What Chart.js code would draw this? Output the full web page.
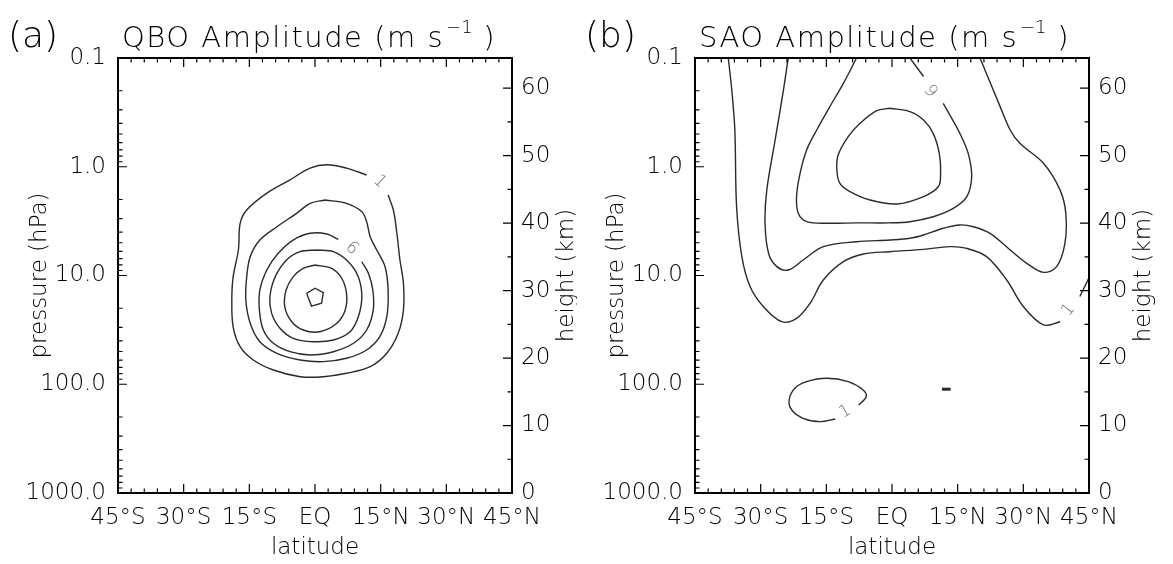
<!DOCTYPE html>
<html>
<head>
<meta charset="utf-8">
<script src="https://cdn.jsdelivr.net/npm/chart.js@4.4.1/dist/chart.umd.min.js"></script>
<style>
  html, body { margin: 0; padding: 0; background: #fff; }
  #wrap { position: relative; width: 1173px; height: 564px; }
  .panel { position: absolute; top: 0; height: 564px; }
</style>
</head>
<body>
<div id="wrap">
  <div class="panel" style="left:0;width:577px"><canvas id="qboChart"></canvas></div>
  <div class="panel" style="left:577px;width:596px"><canvas id="saoChart"></canvas></div>
</div>
<script>
// axis ticks
const latTicks = [-45, -30, -15, 0, 15, 30, 45];
const latTickLabels = ['45°S', '30°S', '15°S', 'EQ', '15°N', '30°N', '45°N'];
const pressureTicks = [0.1, 1, 10, 100, 1000];
const heightTicks = [0, 10, 20, 30, 40, 50, 60];
const SCALE_HEIGHT = 7; // km, for the height axis on the right
const HEIGHT_TOP = SCALE_HEIGHT * Math.log(1000 / 0.1);

// QBO amplitude contours, [latitude, pressure hPa]
const qboLevel1 = [[11.8,1.19],[7.2,1.03],[2.7,0.96],[-1.1,1.03],[-5.7,1.32],[-11.0,1.75],[-15.6,2.5],[-17.1,3.31],[-17.5,5.83],[-18.7,10.3],[-19.0,16.8],[-18.7,29.6],[-17.1,45.1],[-14.1,59.8],[-9.5,74],[-3.4,85.2],[1.9,85.2],[7.2,79.3],[12.6,69],[16.4,51.9],[19.0,34.0],[20.2,20.8],[20.2,11.8],[19.4,7.2],[18.7,4.09],[17.9,2.5],[16.7,1.82]];
const qboLevel2 = [[2.3,2.02],[7.2,2.17],[10.7,2.59],[11.8,3.2],[12.6,4.4],[14.1,5.83],[16.0,8.3],[16.7,13.6],[16.4,23.9],[14.8,36.5],[11.8,48.4],[7.2,57.7],[1.9,62.0],[-3.4,59.8],[-8.7,51.9],[-12.6,40.6],[-14.8,27.5],[-15.8,16.8],[-15.6,10.3],[-14.8,6.72],[-12.6,4.72],[-8.7,3.56],[-4.2,2.68],[-1.1,2.17],[2.3,2.02]];
const qboLevel3 = [[5.3,4.65],[2.7,4.15],[-1.1,4.09],[-5.0,4.72],[-8.4,6.25],[-11.0,8.9],[-12.6,13.6],[-12.7,20.8],[-11.8,31.7],[-9.5,42.0],[-5.7,50.2],[-1.1,53.8],[4.2,50.2],[8.8,42.0],[11.8,31.7],[13.3,20.8],[13.2,13.6],[12.2,9.55],[10.7,7.47]];
const qboLevel4 = [[0.4,5.83],[4.2,6.04],[7.6,7.47],[9.9,10.3],[10.7,15.7],[9.9,23.9],[8.0,32.9],[4.2,39.2],[-0.4,40.6],[-5.0,37.8],[-8.0,30.6],[-9.9,22.3],[-10.3,15.7],[-9.1,10.3],[-6.5,7.2],[-3.4,6.04],[0.4,5.83]];
const qboLevel5 = [[0.0,8.01],[3.8,8.59],[6.1,10.6],[7.2,14.6],[6.9,20.8],[5.0,27.5],[1.1,32.9],[-2.7,31.7],[-5.3,26.6],[-6.9,19.4],[-6.6,13.6],[-5.0,10.3],[-2.7,8.59],[0.0,8.01]];
const qboLevel6 = [[-1.9,14.6],[0.0,13.1],[1.9,14.4],[1.5,18.0],[-0.8,19.1],[-1.9,14.6]];
const qboLabels = [
  { lat: 14.8, p: 1.37, text: '1', angle: 43 },
  { lat: 8.4, p: 5.62, text: '6', angle: 44 }
];

// SAO amplitude contours
const saoLevel1 = [[-37.4,0.1],[-36.6,0.197],[-35.9,0.459],[-35.5,2.33],[-34.3,6.71],[-32.4,12.7],[-29.4,19.3],[-25.2,26.6],[-21.8,24.8],[-18.7,18.0],[-15.7,11.0],[-11.1,7.46],[-6.5,6.34],[-0.5,6.04],[7.2,5.75],[13.2,5.43],[17.1,5.63],[21.6,6.71],[26.2,11.0],[30.0,19.3],[34.6,28.5],[38.4,26.6]];
const saoLevel1Edge = [[42.9,15.6],[45.0,10.5]];
const saoLevel1Low = [[-13.0,208.7],[-16.4,220.8],[-20.3,205.6],[-22.9,172.5],[-23.5,139.6],[-22.2,109],[-19.5,94.7],[-14.9,88.2],[-10.0,94.7],[-6.6,113],[-5.9,130.2],[-7.6,155.1]];
const saoSpot = [[11.4,111],[13.4,111]];
const saoLevel2 = [[-23.7,0.1],[-24.8,0.197],[-26.7,0.568],[-28.6,1.64],[-29.0,3.31],[-28.2,6.25],[-26.3,8.29],[-23.7,8.9],[-20.3,7.2],[-15.7,5.43],[-8.1,4.89],[-0.5,4.72],[4.1,4.55],[7.2,4.24],[11.7,3.68],[15.5,3.43],[18.6,3.56],[22.4,4.1],[27.0,5.83],[30.8,7.73],[34.6,9.35],[37.6,8.29],[39.5,5.06],[39.7,2.68],[38.4,1.64],[34.6,0.93],[29.2,0.609],[27.0,0.459],[24.7,0.28],[20.1,0.1]];
const saoLevel3 = [[-8.1,0.1],[-11.1,0.171],[-14.2,0.28],[-17.2,0.459],[-19.5,0.701],[-21.0,1.15],[-21.8,1.88],[-21.4,2.68],[-19.5,3.2],[-14.2,3.31],[-8.1,3.28],[-0.5,3.28],[4.1,3.2],[9.4,2.88],[14.0,2.41],[17.1,1.88],[18.2,1.23],[17.4,0.753],[15.5,0.493],[13.2,0.334],[11.7,0.261]];
const saoLevel3Top = [[7.2,0.148],[4.1,0.1]];
const saoLevel4 = [[-0.5,0.29],[4.1,0.311],[7.2,0.372],[9.4,0.493],[10.8,0.753],[11.1,1.15],[10.6,1.52],[7.2,1.88],[1.1,2.2],[-5.0,2.02],[-9.6,1.69],[-11.9,1.42],[-12.6,1.07],[-12.3,0.78],[-10.0,0.529],[-7.3,0.399],[-3.5,0.305],[-0.5,0.29]];
const saoLabels = [
  { lat: 9.4, p: 0.194, text: '6', angle: 233 },
  { lat: 40.3, p: 20.8, text: '1', angle: -51 },
  { lat: -10.7, p: 178.8, text: '1', angle: -30 }
];

const FONT = '"DejaVu Sans", sans-serif';
const tickFont = { family: FONT, size: 23, weight: 300 };

function contour(points, extra) {
  return Object.assign({
    data: points.map(([lat, p]) => ({ x: lat, y: p })),
    showLine: true,
    pointRadius: 0,
    borderColor: '#2a2a2a',
    borderWidth: 1.4,
    tension: 0.35,
    fill: false
  }, extra || {});
}

// frame with inward ticks, titles and contour labels
const panelDecor = {
  id: 'panelDecor',
  afterDatasetsDraw(chart, args, opts) {
    const { ctx, chartArea: a, scales: { x, y } } = chart;
    const y2 = chart.scales.y2;
    ctx.save();

    ctx.fillStyle = '#707070';
    ctx.font = '300 17px ' + FONT;
    ctx.textAlign = 'center';
    ctx.textBaseline = 'middle';
    opts.labels.forEach(l => {
      ctx.save();
      ctx.translate(x.getPixelForValue(l.lat), y.getPixelForValue(l.p));
      ctx.rotate(l.angle * Math.PI / 180);
      ctx.fillText(l.text, 0, 0);
      ctx.restore();
    });

    ctx.strokeStyle = '#000';
    ctx.lineWidth = 1.2;
    ctx.beginPath();
    for (let v = -45; v <= 45; v += 3) {
      const px = x.getPixelForValue(v);
      const len = v % 15 === 0 ? 9 : 4.5;
      ctx.moveTo(px, a.bottom); ctx.lineTo(px, a.bottom - len);
      ctx.moveTo(px, a.top); ctx.lineTo(px, a.top + len);
    }
    [0.1, 1, 10, 100].forEach(d => {
      for (let k = 1; k <= 9; k++) {
        const py = y.getPixelForValue(d * k);
        ctx.moveTo(a.left, py); ctx.lineTo(a.left + (k === 1 ? 9 : 4.5), py);
      }
    });
    for (let z = 0; z <= 60; z += 5) {
      const py = y2.getPixelForValue(z);
      ctx.moveTo(a.right, py); ctx.lineTo(a.right - (z % 10 === 0 ? 9 : 4.5), py);
    }
    ctx.stroke();
    ctx.lineWidth = 2;
    ctx.strokeRect(a.left, a.top, a.right - a.left, a.bottom - a.top);

    // panel letter and title
    ctx.fillStyle = '#000';
    ctx.textAlign = 'left';
    ctx.textBaseline = 'alphabetic';
    ctx.font = '300 36px ' + FONT;
    ctx.fillText(opts.letter, a.left - 110, 47);
    ctx.letterSpacing = '1.5px';
    ctx.font = '300 29px ' + FONT;
    let tx = a.left + 4;
    const main = opts.title + ' (m s';
    ctx.fillText(main, tx, 47);
    tx += ctx.measureText(main).width + 2;
    ctx.letterSpacing = '0px';
    ctx.font = '300 18px ' + FONT;
    ctx.fillText('\u22121', tx, 33);
    tx += ctx.measureText('\u22121').width;
    ctx.letterSpacing = '1.5px';
    ctx.font = '300 29px ' + FONT;
    ctx.fillText(' )', tx, 47);
    ctx.letterSpacing = '0px';

    // right axis title
    ctx.font = '300 23px ' + FONT;
    ctx.textAlign = 'center';
    ctx.textBaseline = 'middle';
    ctx.translate(a.right + 55, (a.top + a.bottom) / 2);
    ctx.rotate(-Math.PI / 2);
    ctx.fillText('height (km)', 0, 0);
    ctx.restore();
  }
};

function makePanel(id, datasets, letter, title, labels, rightWidth) {
  return new Chart(document.getElementById(id), {
    type: 'scatter',
    data: { datasets: datasets },
    options: {
      responsive: true,
      maintainAspectRatio: false,
      animation: false,
      events: [],
      layout: { padding: { top: 58, left: 0, right: 0, bottom: 0 } },
      scales: {
        x: {
          type: 'linear', min: -45, max: 45,
          grid: { display: false, drawTicks: false },
          border: { display: false },
          afterBuildTicks: s => { s.ticks = latTicks.map(v => ({ value: v })); },
          afterFit: s => { s.height = 71; },
          ticks: {
            autoSkip: false, maxRotation: 0, padding: 11, color: '#000', font: tickFont,
            callback: (v, i) => latTickLabels[i]
          },
          title: { display: true, text: 'latitude', color: '#000', font: tickFont, padding: { top: 0, bottom: 2 } }
        },
        y: {
          type: 'logarithmic', position: 'left', min: 0.1, max: 1000, reverse: true,
          grid: { display: false, drawTicks: false },
          border: { display: false },
          afterBuildTicks: s => { s.ticks = pressureTicks.map(v => ({ value: v })); },
          afterFit: s => { s.width = 118; },
          ticks: { padding: 12, color: '#000', font: tickFont, callback: v => Number(v).toFixed(1) },
          title: { display: true, text: 'pressure (hPa)', color: '#000', font: tickFont, padding: { top: 26, bottom: 0 } }
        },
        y2: {
          type: 'linear', position: 'right', min: 0, max: HEIGHT_TOP,
          grid: { display: false, drawTicks: false },
          border: { display: false },
          afterBuildTicks: s => { s.ticks = heightTicks.map(v => ({ value: v })); },
          afterFit: s => { s.width = rightWidth; },
          ticks: { padding: 9, color: '#000', font: tickFont }
        }
      },
      plugins: {
        legend: { display: false },
        tooltip: { enabled: false },
        panelDecor: { letter: letter, title: title, labels: labels }
      }
    },
    plugins: [panelDecor]
  });
}

const qboChart = makePanel('qboChart', [
  contour(qboLevel1),
  contour(qboLevel2),
  contour(qboLevel3),
  contour(qboLevel4),
  contour(qboLevel5),
  contour(qboLevel6, { tension: 0 })
], '(a)', 'QBO Amplitude', qboLabels, 65);

const saoChart = makePanel('saoChart', [
  contour(saoLevel1),
  contour(saoLevel1Edge, { tension: 0 }),
  contour(saoLevel1Low),
  contour(saoSpot, { tension: 0, borderWidth: 3 }),
  contour(saoLevel2),
  contour(saoLevel3),
  contour(saoLevel3Top, { tension: 0 }),
  contour(saoLevel4)
], '(b)', 'SAO Amplitude', saoLabels, 84);
</script>
</body>
</html>
